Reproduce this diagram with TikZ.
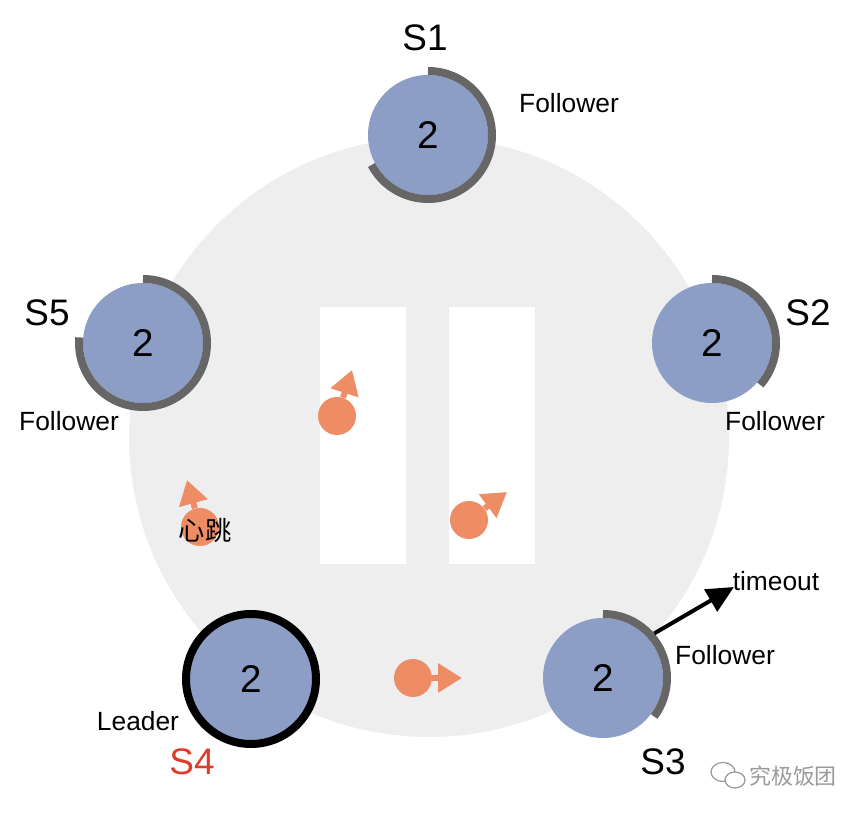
\documentclass[tikz,border=0pt]{standalone}
\usepackage{fontspec}
\setmainfont{Liberation Sans}
\newfontfamily\cjk{Noto Sans CJK SC}
\usetikzlibrary{calc,arrows.meta,positioning}
\definecolor{ringgray}{HTML}{EEEEEE}
\definecolor{srvblue}{HTML}{8C9DC6}
\definecolor{timergray}{HTML}{666666}
\definecolor{beatorange}{HTML}{EE8C66}
\definecolor{leadred}{HTML}{E03A2C}
\definecolor{markgray}{HTML}{9A9A9A}
\tikzset{
  server/.style={circle, fill=srvblue, minimum size=2.4cm, inner sep=0pt,
    font=\fontsize{22}{26}\selectfont},
  leader/.style={server, draw=black, line width=1.6mm, minimum size=2.6cm},
  timer/.style={draw=timergray, line width=1.6mm},
  sname/.style={font=\fontsize{21}{25}\selectfont, inner sep=0pt},
  role/.style={font=\fontsize{15}{18}\selectfont, inner sep=0pt},
  lane/.style={fill=white, minimum width=1.72cm, minimum height=5.14cm, inner sep=0pt},
  beat/.style={circle, fill=beatorange, minimum size=0.76cm, inner sep=0pt},
  beatarr/.style={draw=beatorange, line width=1.2mm, -{Triangle[length=4.8mm,width=5.6mm]}},
  tarr/.style={line width=0.8mm, -{Triangle[length=5.4mm,width=5mm]}}
}
\begin{document}
\begin{tikzpicture}

  \useasboundingbox (0,0) rectangle (17.28,16.28);

  % cluster background and the two network lanes
  \fill[ringgray] (8.58,7.54) circle[radius=6.0];
  \node[lane] (lane1) at (7.26,7.57) {};
  \node[lane] (lane2) at (9.84,7.57) {};

  % servers
  \node[server] (s1) at (8.56,13.58) {2};
  \node[server] (s2) at (14.24,9.42) {2};
  \node[server] (s3) at (12.06,2.72) {2};
  \node[leader] (s4) at (5.02,2.70) {2};
  \node[server] (s5) at (2.86,9.42) {2};

  % election timers
  \draw[timer] ([shift={(90:1.28)}]s1.center) arc[start angle=90, end angle=-152, radius=1.28];
  \draw[timer] ([shift={(90:1.28)}]s2.center) arc[start angle=90, end angle=-41, radius=1.28];
  \draw[timer] ([shift={(90:1.28)}]s3.center) arc[start angle=90, end angle=-37, radius=1.28];
  \draw[timer] ([shift={(90:1.28)}]s5.center) arc[start angle=90, end angle=-185, radius=1.28];

  % names and roles
  \node[sname] (s1name) at ($(s1)+(-0.06,1.94)$) {S1};
  \node[sname] (s2name) at ($(s2)+(1.92,0.60)$) {S2};
  \node[sname] (s3name) at ($(s3)+(1.20,-1.68)$) {S3};
  \node[sname, text=leadred] (s4name) at ($(s4)+(-1.18,-1.66)$) {S4};
  \node[sname] (s5name) at ($(s5)+(-1.92,0.60)$) {S5};

  \node[role] (s1role) at ($(s1)+(2.82,0.64)$) {Follower};
  \node[role] (s2role) at ($(s2)+(1.26,-1.56)$) {Follower};
  \node[role] (s3role) at ($(s3)+(2.44,0.46)$) {Follower};
  \node[role] (s4role) at ($(s4)+(-2.26,-0.84)$) {Leader};
  \node[role] (s5role) at ($(s5)+(-1.48,-1.56)$) {Follower};

  % S3 times out
  \node[role] (tmo) at (15.52,4.66) {timeout};
  \coordinate (tmotip) at (14.68,4.54);
  \draw[tarr] ([shift={(41:1.36)}]s3.center) -- (tmotip);

  % heartbeats from the leader
  \node[beat] (hb1) at (6.74,7.96) {};
  \node[beat] (hb2) at (9.38,5.88) {};
  \node[beat] (hb3) at (8.26,2.72) {};
  \node[beat] (hb4) at (4.00,5.74) {};
  \coordinate (hb1tip) at (7.04,8.88);
  \coordinate (hb2tip) at (10.14,6.44);
  \coordinate (hb3tip) at (9.24,2.72);
  \coordinate (hb4tip) at (3.74,6.68);
  \foreach \i in {1,...,4}
    \draw[beatarr] (hb\i) -- (hb\i tip);
  \node[role, font=\cjk\fontsize{15}{18}\selectfont] (hblabel) at (4.10,5.66) {心跳};

  % watermark
  \draw[markgray, line width=0.25mm] (14.46,0.84) ellipse[x radius=0.24, y radius=0.19];
  \draw[markgray, line width=0.25mm, fill=white] (14.70,0.68) ellipse[x radius=0.20, y radius=0.16];
  \node[font=\cjk\fontsize{12.5}{15}\selectfont, text=markgray, inner sep=0pt] (mark) at (15.86,0.76) {究极饭团};

\end{tikzpicture}
\end{document}
